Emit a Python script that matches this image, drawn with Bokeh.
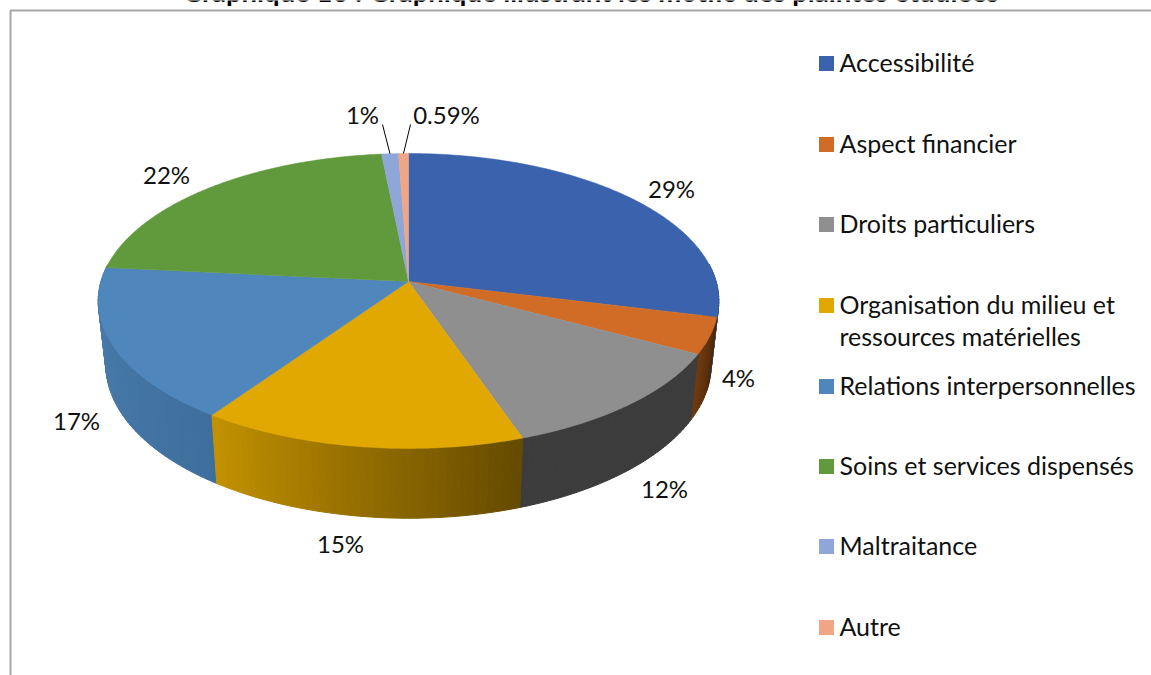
import numpy as np
from bokeh.plotting import figure
from bokeh.models import Range1d
from bokeh.core.properties import value
from bokeh.embed import file_html
from bokeh.resources import INLINE

title = "Graphique 10 : Graphique illustrant les motifs des plaintes étudiées"
categories = ["Accessibilité", "Aspect financier", "Droits particuliers",
              "Organisation du milieu et\nressources matérielles",
              "Relations interpersonnelles", "Soins et services dispensés",
              "Maltraitance", "Autre"]
values = [29, 4, 12, 15, 17, 22, 1, 0.59]
labels = ["29%", "4%", "12%", "15%", "17%", "22%", "1%", "0.59%"]

top_colors = ["#3b63ad", "#d06c26", "#8f8f8f", "#e0a800", "#4f86bb", "#619a3c", "#8fa6d8", "#f0a585"]
# side wall colours, left end and right end of each slice's wall
side_left = [(47, 79, 138), (112, 58, 16), (60, 60, 60), (196, 146, 0), (76, 128, 176), (80, 128, 50), (110, 128, 170), (190, 130, 105)]
side_right = [(47, 79, 138), (72, 38, 8), (60, 60, 60), (100, 74, 0), (62, 110, 156), (80, 128, 50), (110, 128, 170), (190, 130, 105)]

label_x = [671, 738, 664, 340, 76, 166, 362, 446]
label_y = [188, 377, 488, 543, 420, 174, 114, 114]
legend_y = [63, 144, 224, 305, 386, 466, 546, 627]
legend_text_dy = -2

# projection of the tilted disc
CX, K = 408, 0.132
TOP_Y, TOP_R, TOP_H = 281, 307.6, 144.9
BOT_Y, BOT_R, BOT_H = 344, 300, 150.8


def project(theta, cy, r, h):
    u, v = np.sin(theta), np.cos(theta)
    d = 1 + K * v
    return CX + r * u / d, cy - h * v / d


edges = np.concatenate([[0], np.cumsum(values)]) / sum(values) * 2 * np.pi

p = figure(width=1151, height=675, x_range=Range1d(0, 1151), y_range=Range1d(675, 0),
           output_backend="svg", toolbar_location=None, min_border=0,
           outline_line_color=None, background_fill_color="white",
           styles={"position": "absolute", "left": "0px", "top": "0px"})
p.xaxis.visible = False
p.yaxis.visible = False
p.grid.visible = False

# chart frame
p.line([10, 10, 1151], [675, 10, 10], line_color="#a6a6a6", line_width=2)

# side wall strips, back to front
strips = []
for i in range(len(values)):
    a, b = edges[i], edges[i + 1]
    n = max(2, int((b - a) / 0.02))
    t = np.linspace(a, b, n + 1)
    for j in range(n):
        mid = (t[j] + t[j + 1]) / 2
        if np.cos(mid) > 0.12:
            continue
        f = 1 - (j + 0.5) / n  # the angle runs clockwise, so right to left along the front
        rgb = [round(side_left[i][c] + f * (side_right[i][c] - side_left[i][c])) for c in range(3)]
        col = "#%02x%02x%02x" % tuple(rgb)
        x0, y0 = project(t[j:j + 2], TOP_Y, TOP_R, TOP_H)
        x1, y1 = project(t[j:j + 2][::-1], BOT_Y, BOT_R, BOT_H)
        strips.append((np.cos(mid), list(x0) + list(x1), list(y0) + list(y1), col))
strips.sort(key=lambda s: -s[0])
p.patches([s[1] for s in strips], [s[2] for s in strips],
          fill_color=[s[3] for s in strips], line_color=[s[3] for s in strips], line_width=1)

# top faces
xs, ys = [], []
for i in range(len(values)):
    t = np.linspace(edges[i], edges[i + 1], max(3, int((edges[i + 1] - edges[i]) / 0.01)))
    x, y = project(t, TOP_Y, TOP_R, TOP_H)
    xs.append([CX] + list(x))
    ys.append([TOP_Y] + list(y))
p.patches(xs, ys, fill_color=top_colors, line_color=top_colors, line_width=0.5)

# leader lines of the two smallest slices
for i, (lx, ly) in zip([6, 7], [(382, 124), (410, 124)]):
    ex, ey = project((edges[i] + edges[i + 1]) / 2, TOP_Y, TOP_R, TOP_H)
    p.line([lx, ex], [ly, ey], line_color="black", line_width=1)

# data labels
p.text(label_x, label_y, text=labels, text_font=value("Lato"), text_font_size="24px",
       text_color="#111111", text_align="center", text_baseline="middle")

# legend
p.rect([826] * 8, legend_y, width=15, height=15, fill_color=top_colors, line_color=None)
for name, y in zip(categories, legend_y):
    for k, line in enumerate(name.split("\n")):
        p.text([839], [y + legend_text_dy + k * 32], text=[line], text_font=value("Lato"),
               text_font_size="25px", text_color="#111111", text_align="left", text_baseline="middle")

# title, cut by the top of the page as in the source
p.text([590], [-9], text=[title], text_font=value("Lato"), text_font_size="27.5px",
       text_font_style="bold", text_color="black", text_align="center", text_baseline="middle")

open("out.html", "w").write(file_html(p, INLINE))
